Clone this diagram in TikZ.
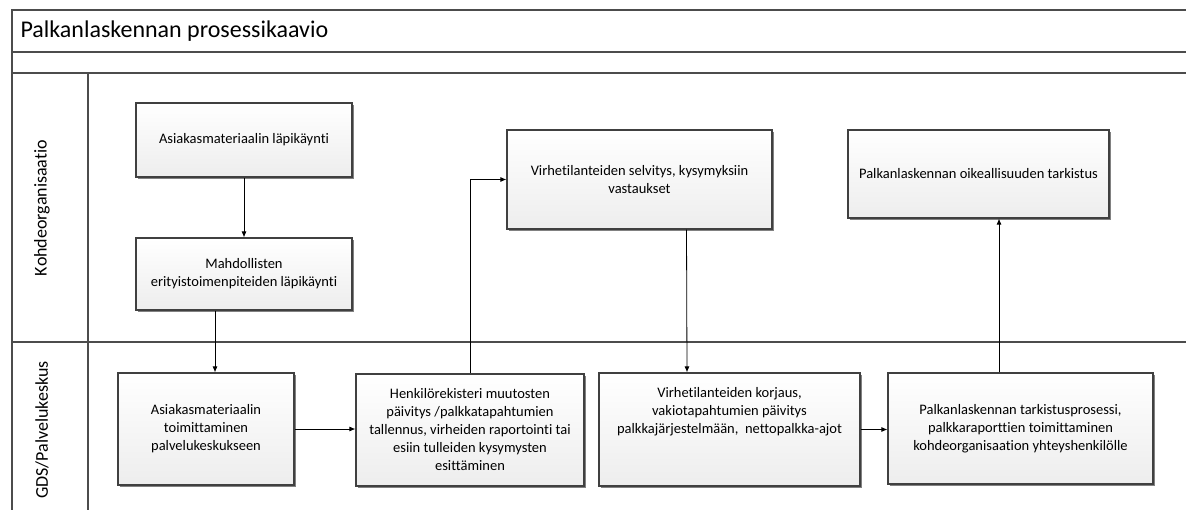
\documentclass[tikz,border=0pt]{standalone}
\usepackage{fontspec}
\setmainfont{Carlito}[Ligatures=NoCommon]
\usetikzlibrary{arrows.meta,shadows}

\begin{document}
\begin{tikzpicture}[x=1pt,y=-1pt,
  frame/.style={draw=black!70,line width=1.3pt},
  box/.style={shape=rectangle,draw=black!75,line width=1.2pt,top color=white,bottom color=black!7,
    drop shadow={shadow xshift=1.8pt,shadow yshift=-1.8pt,opacity=0.7,fill=black!70},
    align=center,font=\fontsize{14.5}{18}\selectfont,inner sep=2pt},
  lane/.style={rotate=90,font=\fontsize{18}{20}\selectfont},
  arr/.style={draw=black,line width=0.8pt,-{Latex[length=6pt,width=5pt]}}]
\useasboundingbox (0,0) rectangle (1186,510);

\draw[frame] (1186,10) -- (12,10) -- (12,510);
\draw[frame] (12,52) -- (1186,52);
\draw[frame] (12,73) -- (1186,73);
\draw[frame] (12,342) -- (1186,342);
\draw[frame] (88,73) -- (88,510);

\node[anchor=west,font=\fontsize{24}{28}\selectfont] (title) at (17,31) {Palkanlaskennan prosessikaavio};
\node[lane] (kohde) at (42,208) {Kohdeorganisaatio};
\node[lane] (gds) at (42,430) {GDS/Palvelukeskus};

\node[box,minimum width=216pt,minimum height=74pt] (asiakas) at (244,140) {Asiakasmateriaalin läpikäynti};
\node[box,minimum width=216pt,minimum height=72pt] (erityis) at (244,274) {Mahdollisten\\erityistoimenpiteiden läpikäynti};
\node[box,minimum width=265pt,minimum height=99pt] (selvitys) at (639.5,179.5) {Virhetilanteiden selvitys, kysymyksiin\\vastaukset};
\node[box,minimum width=261pt,minimum height=88pt] (oikeellisuus) at (978.5,174) {Palkanlaskennan oikeallisuuden tarkistus};
\node[box,minimum width=176pt,minimum height=112pt] (toimitus) at (206,429) {Asiakasmateriaalin\\toimittaminen\\palvelukeskukseen};
\node[box,minimum width=228pt,minimum height=112pt] (rekisteri) at (470,430) {Henkilörekisteri muutosten\\päivitys /palkkatapahtumien\\tallennus, virheiden raportointi tai\\esiin tulleiden kysymysten\\esittäminen};
\node[box,minimum width=261pt,minimum height=113pt,text depth=38pt] (korjaus) at (729.5,429.5) {Virhetilanteiden korjaus,\\vakiotapahtumien päivitys\\palkkajärjestelmään,\ \ nettopalkka-ajot};
\node[box,minimum width=265pt,minimum height=111pt] (tarkistus) at (1020.5,428.5) {Palkanlaskennan tarkistusprosessi,\\palkkaraporttien toimittaminen\\kohdeorganisaation yhteyshenkilölle};

\draw[arr] (asiakas) -- (erityis);
\draw[arr] ([xshift=-29pt]erityis.south) -- ([xshift=9pt]toimitus.north);
\draw[arr] (toimitus.east) -- (toimitus.east -| rekisteri.west);
\draw[arr] (rekisteri.north) |- (selvitys.west);
\draw[arr] ([xshift=47pt]selvitys.south) -- ([xshift=-42.5pt]korjaus.north);
\draw[arr] (korjaus.east) -- (korjaus.east -| tarkistus.west);
\draw[arr] ([xshift=-21.5pt]tarkistus.north) -- ([xshift=20.5pt]oikeellisuus.south);
\end{tikzpicture}
\end{document}
